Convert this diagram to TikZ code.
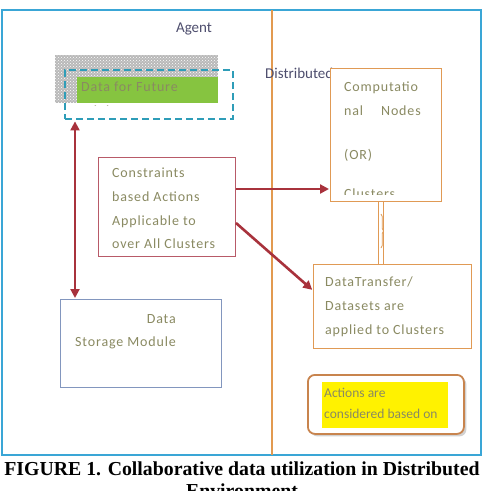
\documentclass[tikz,border=0pt]{standalone}
\usepackage{fontspec}
\setmainfont{Liberation Serif}
\newfontfamily\boxfont[LetterSpace=6]{Carlito}
\newfontfamily\tightfont{Carlito}
\newfontfamily\headfont{Carlito}
\usetikzlibrary{arrows.meta,positioning,patterns,shadows,calc,decorations.pathreplacing}
\definecolor{FrameBlue}{HTML}{3AA6D6}
\definecolor{Divider}{HTML}{E29A50}
\definecolor{TealDash}{HTML}{2E9DB8}
\definecolor{LeafGreen}{HTML}{86C440}
\definecolor{OliveText}{HTML}{8A8A62}
\definecolor{HeadText}{HTML}{4E4E6E}
\definecolor{ArrowRed}{HTML}{A8323C}
\definecolor{RuleEdge}{HTML}{B85A68}
\definecolor{StoreEdge}{HTML}{8296BE}
\definecolor{WarmEdge}{HTML}{E09A55}
\definecolor{ActEdge}{HTML}{C8844E}

\begin{document}
\begin{tikzpicture}[
  x=1pt,y=-1pt,
  title/.style={text=HeadText,font=\headfont\fontsize{15}{18}\selectfont,inner sep=0pt},
  boxtext/.style={text=OliveText,font=\boxfont\fontsize{14}{23.6}\selectfont,align=left,inner sep=0pt},
  plainbox/.style={draw=#1,line width=1pt,fill=white,anchor=north west,inner sep=0pt},
  arr/.style={-{Triangle[length=9pt,width=9pt]},line width=2.6pt,draw=ArrowRed,shorten >=1pt},
  link/.style={draw=WarmEdge,line width=1pt,double=white,double distance=4.5pt},
  capline/.style={font=\bfseries\fontsize{19.8}{22}\selectfont,inner sep=0pt}
]
\useasboundingbox (0,0) rectangle (483,491);
\fill[white] (0,0) rectangle (483,491);
% frame and divider
\draw[draw=FrameBlue,line width=1.3pt] (2,10) rectangle (481,455);
\draw[draw=Divider,line width=1.2pt] (272,10) -- (272,455);

\node[title] (agent) at (194,29) {Agent};
\node[title,anchor=west] (dist) at (265,73) {Distributed};

% future mining
\node[anchor=north west,minimum width=163pt,minimum height=48pt,inner sep=0pt,preaction={fill=gray!55},
  pattern=crosshatch dots,pattern color=white] (shade) at (55,55) {};
\node[anchor=north west,minimum width=141pt,minimum height=26pt,inner sep=0pt,fill=LeafGreen] (green) at (77,77) {};
\begin{scope}
  \clip (green.north west) rectangle ([yshift=-2pt]green.south east);
  \node[boxtext,anchor=north west] (mining) at (81,82) {Data for Future\\Mining};
\end{scope}
\node[anchor=north west,draw=TealDash,line width=2.4pt,dash pattern=on 7pt off 4pt,
  minimum width=168pt,minimum height=49pt,inner sep=0pt] (future) at (64,69) {};

% left boxes
\node[plainbox=RuleEdge,minimum width=137pt,minimum height=99pt] (rules) at (98,157) {};
\node[boxtext,anchor=north west] (rulestext) at (112,168) {Constraints\\based Actions\\Applicable to\\over All Clusters};
\node[plainbox=StoreEdge,minimum width=161pt,minimum height=88pt] (storage) at (60,299) {};
\node[boxtext,align=right,anchor=north east] (storetext) at (176,314) {Data\\Storage Module};

% right boxes
\node[plainbox=WarmEdge,minimum width=111pt,minimum height=133pt] (compute) at (330,68) {};
\begin{scope}
  \clip (compute.north west) rectangle ([yshift=8pt]compute.south east);
  \node[boxtext,anchor=north west] (computetext) at (344,82) {Computatio\\nal\quad\ Nodes\\[20pt](OR)\\[16pt]Clusters};
\end{scope}
\node[plainbox=WarmEdge,minimum width=158pt,minimum height=84pt] (transfer) at (313,264) {};
\node[boxtext,anchor=north west] (transfertext) at (325,277) {DataTransfer/\\Datasets are\\applied to Clusters};

\node[anchor=north west,draw=ActEdge,line width=1.8pt,rounded corners=7pt,fill=white,
  drop shadow={shadow xshift=2.5pt,shadow yshift=-2.5pt,fill=gray!70},
  minimum width=156pt,minimum height=59pt,inner sep=0pt] (actions) at (307,374) {};
\node[anchor=north west,minimum width=126pt,minimum height=46pt,inner sep=0pt,fill=yellow] (hilite) at (322,382) {};
\begin{scope}
  \clip (hilite.north west) rectangle (hilite.south east);
  \node[boxtext,font=\tightfont\fontsize{13.5}{21}\selectfont,anchor=north west] (acttext) at (324,388) {Actions are\\considered based on\\Constraints};
\end{scope}

% connectors
\draw[arr,{Triangle[length=9pt,width=9pt]}-{Triangle[length=9pt,width=9pt]},line width=2pt,shorten <=1pt]
  ([xshift=11pt]future.south west) -- ([xshift=15pt]storage.north west);
\draw[arr] ([yshift=18pt]rules.east) -- ([yshift=18pt]rules.east -| compute.west);
\draw[arr] ([yshift=-16pt]rules.east) -- ([yshift=16pt]transfer.west);
\draw[link] ([xshift=-5pt]compute.south) -- ([xshift=-5pt]compute.south |- transfer.north);
\draw[draw=WarmEdge,line width=0.7pt,decorate,decoration={brace,amplitude=2.5pt}]
  ([xshift=-5pt,yshift=-12pt]compute.south) -- ([xshift=-5pt,yshift=16pt]compute.south |- transfer.north);

% caption
\node[capline] (caption) at (242,469) {FIGURE 1. Collaborative data utilization in Distributed};
\node[capline,below=7pt of caption] (caption2) {Environment};
\end{tikzpicture}
\end{document}
